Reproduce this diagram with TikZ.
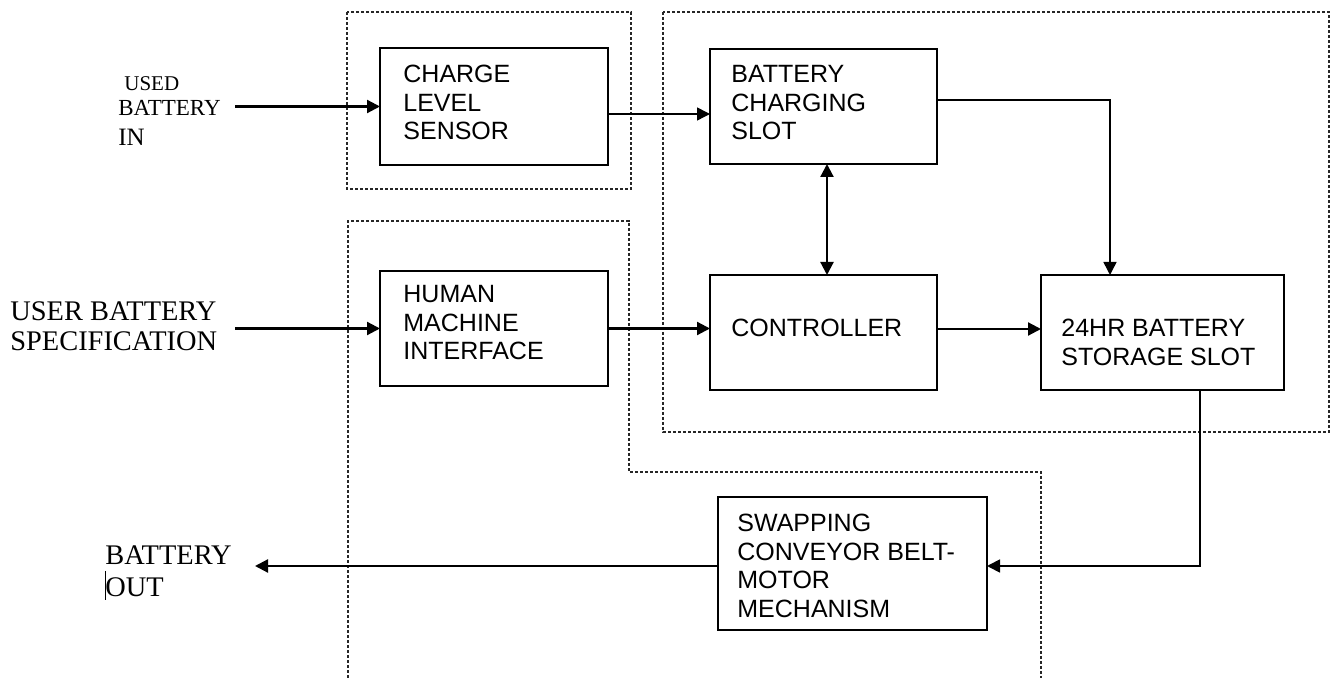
\documentclass[tikz,border=0pt]{standalone}
\usepackage{fontspec}
\setmainfont{Liberation Serif}
\newfontfamily\arialf{Liberation Sans}
\usetikzlibrary{arrows.meta}
\begin{document}
\begin{tikzpicture}[x=0.5pt,y=-0.5pt,
  box/.style={draw, line width=0.8pt, inner sep=0pt, outer sep=0pt},
  boxtext/.style={anchor=north west, inner sep=0pt, align=left, font=\arialf\fontsize{12.5}{14.25}\selectfont},
  lbl/.style={anchor=north west, inner sep=0pt, align=left},
  arr/.style={line width=1.1pt, -{Triangle[length=6.5pt,width=6.5pt]}},
  thinarr/.style={line width=0.75pt, -{Triangle[length=6.5pt,width=6.5pt]}},
  dbl/.style={line width=1.1pt, {Triangle[length=6.5pt,width=6.5pt]}-{Triangle[length=6.5pt,width=6.5pt]}},
  frame/.style={draw=black!85, line width=0.55pt, dash pattern=on 1.6pt off 0.9pt}]
\useasboundingbox (0,0) rectangle (1335,678);

% dashed group frames
\draw[frame] (347,12) rectangle (631,189);
\draw[frame] (663,12) rectangle (1329,432);
\draw[frame] (348,678) -- (348,221) -- (629,221) -- (629,472) -- (1041,472) -- (1041,678);

% boxes
\node[box, minimum width=114pt, minimum height=58.5pt] (charge) at (494,106.5) {};
\node[box, minimum width=113.5pt, minimum height=57.5pt] (bcs) at (823.5,106.5) {};
\node[box, minimum width=113.5pt, minimum height=57.5pt] (ctrl) at (823.5,332.5) {};
\node[box, minimum width=121.5pt, minimum height=57.5pt] (store) at (1162.5,332.5) {};
\node[box, minimum width=114pt, minimum height=57.5pt] (hmi) at (494,328.5) {};
\node[box, minimum width=134.5pt, minimum height=66.5pt] (swap) at (852.5,563.5) {};

% box texts
\node[boxtext] (chargeT) at (403,65) {CHARGE\\LEVEL\\SENSOR};
\node[boxtext] (bcsT) at (731,65) {BATTERY\\CHARGING\\SLOT};
\node[boxtext] (ctrlT) at (731,319) {CONTROLLER};
\node[boxtext] (storeT) at (1061,319) {24HR BATTERY\\STORAGE SLOT};
\node[boxtext] (hmiT) at (403,285) {HUMAN\\MACHINE\\INTERFACE};
\node[boxtext] (swapT) at (737,514) {SWAPPING\\CONVEYOR BELT-\\MOTOR\\MECHANISM};

% outside labels
\node[lbl, font=\fontsize{10.5}{12}\selectfont] (usedA) at (124,76) {USED};
\node[lbl, font=\fontsize{11.5}{13}\selectfont] (usedB) at (118,100) {BATTERY};
\node[lbl, font=\fontsize{12.5}{14}\selectfont] (usedC) at (118,129) {IN};
\node[lbl, font=\fontsize{14.2}{15}\selectfont] (userT) at (10,301) {USER BATTERY\\SPECIFICATION};
\node[lbl, font=\fontsize{14.2}{16}\selectfont] (outT) at (105,545) {BATTERY\\OUT};
\draw[line width=0.4pt] (105.5,571) -- (105.5,600);

% free ends
\coordinate (inA) at (235,106.5);
\coordinate (inB) at (235,328.5);
\coordinate (outP) at (255,566);

% connectors
\draw[arr] (inA) -- (charge.west);
\draw[thinarr] ([yshift=-3.75pt]charge.east) -- ([yshift=-3.75pt]bcs.west);
\draw[thinarr] ([yshift=3.25pt]bcs.east) -| ([xshift=-26.25pt]store.north);
\draw[dbl] ([xshift=1.75pt]bcs.south) -- ([xshift=1.75pt]ctrl.north);
\draw[arr] ([yshift=1.75pt]ctrl.east) -- ([yshift=1.75pt]store.west);
\draw[arr] (inB) -- (hmi.west);
\draw[arr] (hmi.east) -- (hmi.east -| ctrl.west);
\draw[line width=0.9pt, -{Triangle[length=6.5pt,width=6.5pt]}] ([xshift=18.75pt]store.south) |- ([yshift=-1.25pt]swap.east);
\draw[arr] ([yshift=-1.25pt]swap.west) -- (outP);
\end{tikzpicture}
\end{document}
